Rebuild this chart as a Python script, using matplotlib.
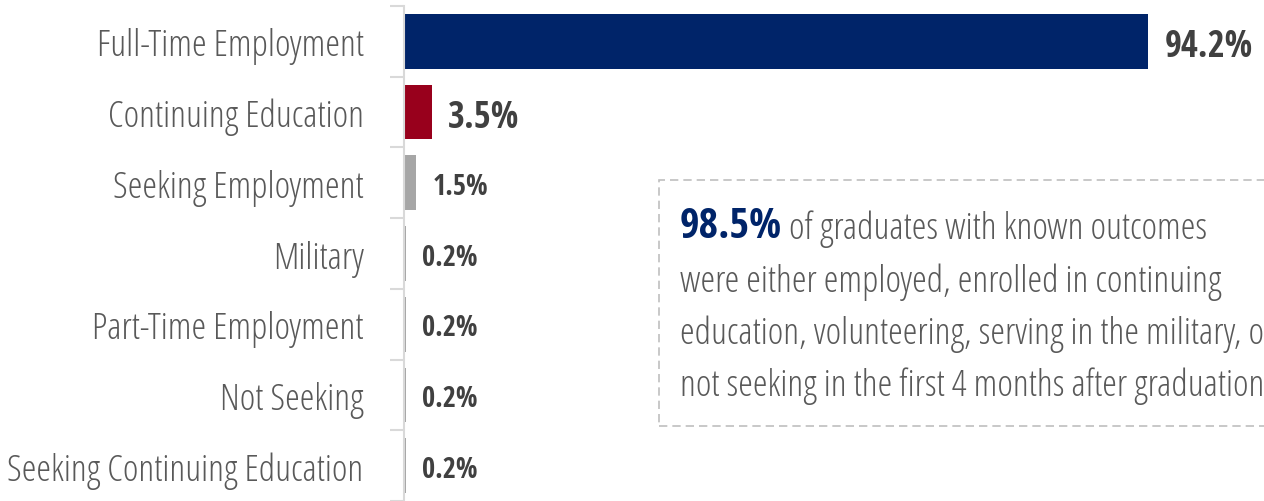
import matplotlib
matplotlib.use("Agg")
import matplotlib.pyplot as plt
from matplotlib import font_manager as fm
from matplotlib.font_manager import FontProperties
from matplotlib.patches import Rectangle

# data
categories = ['Full-Time Employment', 'Continuing Education', 'Seeking Employment', 'Military',
              'Part-Time Employment', 'Not Seeking', 'Seeking Continuing Education']
values = [94.2, 3.5, 1.5, 0.2, 0.2, 0.2, 0.2]
bar_colors = ['#002469', '#98001C', '#A6A6A6', '#A6A6A6', '#A6A6A6', '#A6A6A6', '#A6A6A6']
headline = '98.5%'
note_lines = ['of graduates with known outcomes',
              'were either employed, enrolled in continuing',
              'education, volunteering, serving in the military, or',
              'not seeking in the first 4 months after graduation']


def pick_font(files, names, weight):
    # prefer the exact Open Sans condensed files, else a close condensed family
    for fn in files:
        for f in fm.fontManager.ttflist:
            if f.fname.endswith('/' + fn):
                return FontProperties(fname=f.fname), True
    for n in names:
        fs = [f for f in fm.fontManager.ttflist
              if f.name == n and f.style == 'normal' and '[' not in f.fname
              and abs(int(f.weight) - weight) <= 100]
        if fs:
            best = min(fs, key=lambda f: abs(int(f.weight) - weight))
            return FontProperties(fname=best.fname), False
    return FontProperties(family='DejaVu Sans', weight=weight), False


light, exact = pick_font(['OpenSans-CondLight.ttf', 'OpenSansCondensed-Light.ttf'],
                         ['Open Sans Condensed Light', 'Roboto Condensed'], 300)
bold, _ = pick_font(['OpenSans-CondBold.ttf', 'OpenSansCondensed-Bold.ttf'],
                    ['Open Sans Condensed', 'Roboto Condensed'], 700)
label_size = 26.8 if exact else 22.5

W, H = 1264, 502
fig = plt.figure(figsize=(W / 100, H / 100), dpi=100)
# axes placed in pixels: left spine at x=404, rows 71px tall starting at y=7
ax = fig.add_axes([404 / W, 0, (W - 404) / W, (H - 7) / H])
ax.barh(range(len(values)), values, height=0.775, color=bar_colors)
ax.set_xlim(0, (W - 404) / 7.9)
ax.set_ylim(-0.5 + (H - 7) / 71, -0.5)

for s in ['top', 'right', 'bottom']:
    ax.spines[s].set_visible(False)
ax.spines['left'].set_color('#D9D9D9')
ax.spines['left'].set_linewidth(1.5)
ax.set_xticks([])
ax.set_yticks(range(len(categories)))
ax.set_yticklabels(categories)
ax.tick_params(axis='y', which='major', length=0, pad=29, colors='#595959')
for lab in ax.get_yticklabels():
    lab.set_fontproperties(light)
    lab.set_fontsize(label_size)
    lab.set_verticalalignment('center_baseline')
ax.set_yticks([i - 0.5 for i in range(len(categories) + 1)], minor=True)
ax.tick_params(axis='y', which='minor', length=10, width=1.5, color='#D9D9D9')

for i, v in enumerate(values):
    big = v >= 3
    ax.annotate(f'{v:.1f}%', xy=(v, i), xytext=(12, 0), textcoords='offset points',
                va='center_baseline', ha='left', color='#404040', fontproperties=bold,
                fontsize=26.3 if big else 20.5)

# note box with dashed border
fig.add_artist(Rectangle((659 / W, 1 - 427 / H), (W + 10 - 659) / W, 246 / H,
                         transform=fig.transFigure, fill=False, edgecolor='#BFBFBF',
                         linewidth=1.2, linestyle=(0, (5, 3))))
t0 = fig.text(680 / W, 1 - 238 / H, headline, color='#002469', fontproperties=bold,
              fontsize=30.5, va='baseline', ha='left')
fig.add_artist(plt.Annotation(' ' + note_lines[0], xy=(1, 0), xycoords=t0, xytext=(0, 0),
                              textcoords='offset points', va='bottom', ha='left',
                              color='#595959', fontproperties=light, fontsize=label_size))
for k, line in enumerate(note_lines[1:]):
    fig.text(680 / W, 1 - (292 + 52 * k) / H, line, color='#595959', fontproperties=light,
             fontsize=label_size, va='baseline', ha='left')

fig.savefig('out.png', dpi=100)
